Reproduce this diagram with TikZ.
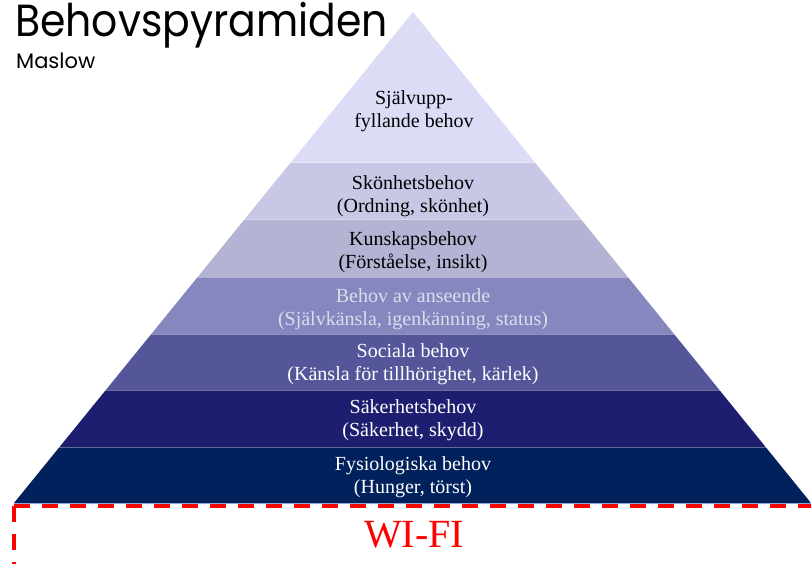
\documentclass[tikz,border=0pt]{standalone}
\usepackage{fontspec}
\setmainfont{Liberation Serif}
\newfontfamily\rubrikfont[FakeStretch=0.91]{Poppins}
\newfontfamily\underfont{Poppins}
\definecolor{lagerA}{HTML}{DCDCF6}
\definecolor{lagerB}{HTML}{C8C8E6}
\definecolor{lagerC}{HTML}{B3B3D4}
\definecolor{lagerD}{HTML}{8787BF}
\definecolor{lagerE}{HTML}{55559A}
\definecolor{lagerF}{HTML}{1E1E70}
\definecolor{lagerG}{HTML}{00215B}
\definecolor{ljustext}{HTML}{DCDCEE}
\definecolor{baslinje}{HTML}{8FA3D6}
\definecolor{wifirod}{HTML}{FF0000}
\begin{document}
\begin{tikzpicture}[x=1pt,y=-1pt]
  \tikzstyle{every node}+=[inner sep=0pt]
  \tikzstyle{niva}=[font=\fontsize{20}{23}\selectfont, align=center]
  \tikzstyle{skiljelinje}=[white, opacity=0.35, line width=1pt]
  \tikzstyle{streckad}=[wifirod, line width=3.5pt, dash pattern=on 16pt off 12pt]
  \useasboundingbox (0,0) rectangle (811,564);
  % pyramid bands
  \begin{scope}
    \clip (413,12) -- (811,503) -- (14,503) -- cycle;
    \fill [lagerA] (0,0) rectangle (811,163);
    \fill [lagerB] (0,163) rectangle (811,220);
    \fill [lagerC] (0,220) rectangle (811,277);
    \fill [lagerD] (0,277) rectangle (811,334);
    \fill [lagerE] (0,334) rectangle (811,390);
    \fill [lagerF] (0,390) rectangle (811,447);
    \fill [lagerG] (0,447) rectangle (811,503);
    \draw [skiljelinje] (0,163) -- (811,163);
    \draw [skiljelinje] (0,220) -- (811,220);
    \draw [skiljelinje] (0,277) -- (811,277);
    \draw [skiljelinje] (0,334) -- (811,334);
    \draw [skiljelinje] (0,390) -- (811,390);
    \draw [skiljelinje] (0,447) -- (811,447);
  \end{scope}
  \draw [baslinje, line width=1pt] (14,503) -- (811,503);
  % labels
  \node [niva, text=black] (sjalv) at (414,111) {Självupp-\\fyllande behov};
  \node [niva, text=black] (skonhet) at (413,196) {Skönhetsbehov\\(Ordning, skönhet)};
  \node [niva, text=black] (kunskap) at (413,252) {Kunskapsbehov\\(Förståelse, insikt)};
  \node [niva, text=ljustext] (anseende) at (413,309) {Behov av anseende\\(Självkänsla, igenkänning, status)};
  \node [niva, text=white] (sociala) at (413,364) {Sociala behov\\(Känsla för tillhörighet, kärlek)};
  \node [niva, text=white] (sakerhet) at (413,420) {Säkerhetsbehov\\(Säkerhet, skydd)};
  \node [niva, text=white] (fysiologi) at (413,477) {Fysiologiska behov\\(Hunger, törst)};
  % title
  \node [anchor=base west, font=\rubrikfont\fontsize{45}{45}\selectfont] (rubrik) at (15,37) {Behovspyramiden};
  \node [anchor=base west, font=\underfont\fontsize{21}{21}\selectfont] (maslow) at (16,69) {Maslow};
  % wifi box
  \coordinate (horn) at (14,506);
  \draw [streckad] (horn) -- (830,506);
  \draw [streckad] (horn) -- (14,600);
  \node [font=\fontsize{40}{40}\selectfont, text=wifirod] (wifi) at (414,535) {WI-FI};
\end{tikzpicture}
\end{document}
